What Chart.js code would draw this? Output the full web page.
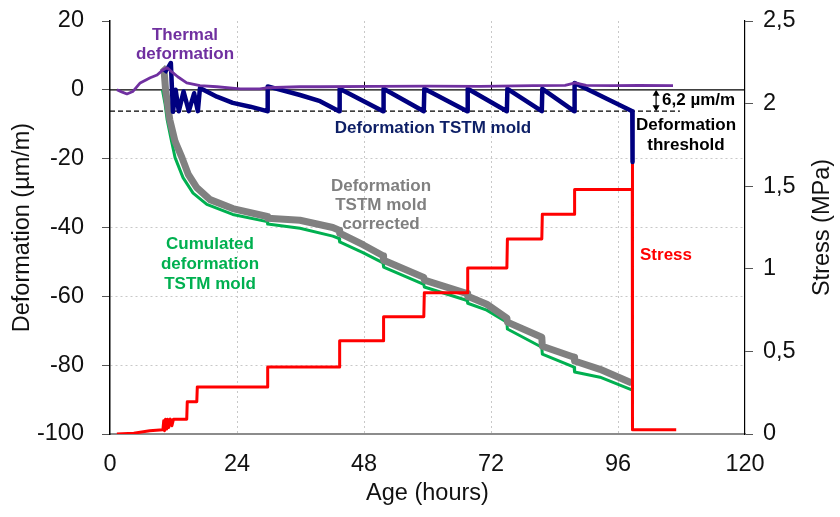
<!DOCTYPE html>
<html>
<head>
<meta charset="utf-8">
<script src="https://cdn.jsdelivr.net/npm/chart.js@4.4.0/dist/chart.umd.min.js"></script>
<style>
    body { margin: 0; background: #fff; }
    canvas { display: block; }
</style>
</head>
<body>
<canvas id="tstmChart" width="840" height="517"></canvas>
<script>
// ===== Data =====
const thermalAge = [1.3, 2.2, 3.2, 4.3, 5.7, 7.6, 8.9, 10.0, 10.8, 11.7, 12.8, 14.5, 17.0, 20.2, 24.6, 28.3, 29.6, 35.9, 39.7, 50, 60, 70, 80, 86, 87.9, 90, 95, 100, 106.4];
const thermalDef = [0, -0.6, -1.2, -0.5, 2.0, 3.5, 4.3, 5.8, 6.4, 5.2, 3.8, 2.0, 1.2, 0.9, 0.3, 0.3, 0.6, 0.9, 0.9, 1.0, 1.1, 1.0, 1.2, 1.3, 2.0, 1.3, 1.2, 1.3, 1.2];

const moldAge = [10.3, 11.0, 11.5, 11.9, 12.4, 13.0, 13.9, 14.9, 15.9, 16.6, 17.0, 20.2, 23.2, 26.5, 29.7, 29.8, 35.9, 39.7, 43.3, 43.4, 51.6, 51.7, 59.3, 59.4, 67.5, 67.6, 75.0, 75.1, 81.6, 81.7, 87.7, 87.8, 98.7, 98.75];
const moldDef = [5.0, 6.5, 7.8, -6.4, 0, -6.2, -0.5, -6.2, -1.0, -6.2, 0.5, -2.0, -3.8, -4.9, -6.2, 1.0, -1.5, -3.3, -6.2, 0.3, -6.2, 0.3, -6.2, 0.3, -6.2, 0.3, -6.2, 0.3, -6.2, 0.3, -6.2, 2.0, -6.2, -21];

const correctedAge = [9.9, 10.2, 10.5, 11.3, 12.3, 13.6, 14.8, 16.4, 18.9, 23.2, 29.7, 29.8, 35.9, 42.1, 43.3, 43.4, 47.8, 51.6, 51.7, 59.3, 59.4, 67.5, 67.6, 71.2, 75.0, 75.1, 81.6, 81.7, 87.7, 87.8, 92.6, 98.6];
const correctedDef = [6.5, 6.0, 0, -8.7, -15, -19.7, -24.6, -28.4, -31.9, -34.5, -36.8, -37.3, -37.9, -40, -40.8, -41.6, -45, -48.2, -49.5, -54.5, -55.3, -59.2, -60, -62.3, -66.3, -67.5, -71.9, -74.5, -77.7, -78.8, -81.2, -85.2];

const cumulatedAge = [9.9, 10.4, 10.8, 11.5, 12.3, 13.8, 15.7, 18.3, 23.2, 29.7, 29.8, 35.9, 42.1, 43.3, 43.4, 47.8, 51.6, 51.7, 59.3, 59.4, 67.5, 67.6, 71.2, 75.0, 75.1, 81.6, 81.7, 87.7, 87.8, 92.6, 98.6];
const cumulatedDef = [0, -4, -8.7, -14, -19.7, -25.5, -30, -33.3, -36.2, -38.3, -39, -40.2, -42.5, -43.2, -44.2, -47.3, -50.3, -51.5, -56.5, -57.3, -61.2, -62, -64, -67.5, -69.5, -74.8, -76.8, -80.6, -82, -83.5, -87.2];

const stressAge = [1.3, 4.5, 7.5, 10.0, 10.15, 10.3, 10.5, 10.7, 10.9, 11.1, 11.4, 11.7, 12.0, 12.3, 14.5, 14.6, 16.4, 16.5, 29.7, 29.8, 43.3, 43.4, 51.6, 51.7, 59.3, 59.4, 67.5, 67.6, 75.0, 75.1, 81.6, 81.7, 87.7, 87.8, 98.7, 98.72, 98.75, 107.0];
const stressMPa = [0, 0.005, 0.02, 0.025, 0.08, 0.02, 0.09, 0.03, 0.09, 0.04, 0.09, 0.05, 0.09, 0.09, 0.09, 0.195, 0.195, 0.285, 0.285, 0.405, 0.405, 0.565, 0.565, 0.71, 0.71, 0.855, 0.855, 1.005, 1.005, 1.18, 1.18, 1.33, 1.33, 1.48, 1.48, 1.64, 0.025, 0.025];

const thresholdAge = [0, 107.7];
const thresholdDef = [-6.2, -6.2];
const zeroAge = [0, 120];
const zeroDef = [0, 0];

const ageTicks = [0, 24, 48, 72, 96, 120];
const defTicks = [-100, -80, -60, -40, -20, 0, 20];
const stressTicks = [0, 0.5, 1, 1.5, 2, 2.5];

const FONT = '"Liberation Sans", Arial, Helvetica, sans-serif';
const AXIS_SIZE = 23.5;

function toPoints(xs, ys) {
    return xs.map((x, i) => ({ x: x, y: ys[i] }));
}

function lineSet(label, xs, ys, color, width, order, axis) {
    return {
        label: label,
        data: toPoints(xs, ys),
        borderColor: color,
        borderWidth: width,
        pointRadius: 0,
        fill: false,
        tension: 0,
        order: order,
        yAxisID: axis || 'y',
        borderJoinStyle: 'round'
    };
}

// ===== Labels drawn over the plot =====
const labelPlugin = {
    id: 'labels',
    beforeDatasetsDraw(chart) {
        const ctx = chart.ctx;
        const xs = chart.scales.x;
        const ys = chart.scales.y;
        const y0 = ys.getPixelForValue(0);
        ctx.save();
        ctx.strokeStyle = '#000';
        ctx.lineWidth = 1;
        [24, 48, 72, 96].forEach(v => {
            const px = Math.round(xs.getPixelForValue(v)) + 0.5;
            ctx.beginPath();
            ctx.moveTo(px, y0);
            ctx.lineTo(px, y0 - 8);
            ctx.stroke();
        });
        ctx.restore();
    },
    afterDatasetsDraw(chart) {
        const ctx = chart.ctx;
        const xs = chart.scales.x;
        const ys = chart.scales.y;
        ctx.save();
        ctx.textAlign = 'center';
        ctx.textBaseline = 'middle';
        ctx.font = 'bold 17px ' + FONT;

        const block = (lines, cx, cy, gap, color) => {
            ctx.fillStyle = color;
            lines.forEach((t, i) => ctx.fillText(t, cx, cy + i * gap));
        };
        block(['Thermal', 'deformation'], 185, 35, 19, '#7030a0');
        block(['Deformation TSTM mold'], 433, 128, 19, '#0d1f66');
        block(['Deformation', 'threshold'], 686, 125, 20, '#000');
        block(['Deformation', 'TSTM mold', 'corrected'], 381, 186, 19, '#808080');
        block(['Cumulated', 'deformation', 'TSTM mold'], 210, 244, 20, '#00b050');
        block(['Stress'], 666, 255, 19, '#ff0000');

        // 6,2 µm/m double arrow
        const ax = xs.getPixelForValue(103.2);
        const yTop = ys.getPixelForValue(0);
        const yBot = ys.getPixelForValue(-6.2);
        ctx.strokeStyle = '#000';
        ctx.fillStyle = '#000';
        ctx.lineWidth = 1.2;
        ctx.beginPath();
        ctx.moveTo(ax, yTop + 4);
        ctx.lineTo(ax, yBot - 4);
        ctx.stroke();
        ctx.beginPath();
        ctx.moveTo(ax, yTop);
        ctx.lineTo(ax - 3.5, yTop + 6);
        ctx.lineTo(ax + 3.5, yTop + 6);
        ctx.closePath();
        ctx.fill();
        ctx.beginPath();
        ctx.moveTo(ax, yBot);
        ctx.lineTo(ax - 3.5, yBot - 6);
        ctx.lineTo(ax + 3.5, yBot - 6);
        ctx.closePath();
        ctx.fill();
        ctx.textAlign = 'left';
        ctx.fillText('6,2 µm/m', ax + 6, (yTop + yBot) / 2);

        // right axis title, reading upwards
        const area = chart.chartArea;
        ctx.font = AXIS_SIZE + 'px ' + FONT;
        ctx.fillStyle = '#111';
        ctx.textAlign = 'center';
        ctx.translate(823, (area.top + area.bottom) / 2);
        ctx.rotate(-Math.PI / 2);
        ctx.fillText('Stress (MPa)', 0, 0);
        ctx.restore();
    }
};

const dotted = (hidden) => (c) => (c.tick && hidden.includes(c.tick.value)) ? 'rgba(0,0,0,0)' : '#c8c8c8';

function fixWidth(w) {
    return function(s) {
        s.width = w;
        s.paddingTop = 0;
        s.paddingBottom = 0;
    };
}

new Chart(document.getElementById('tstmChart').getContext('2d'), {
    type: 'line',
    data: {
        datasets: [
            lineSet('Thermal deformation', thermalAge, thermalDef, '#7030a0', 2.8, 0),
            lineSet('Deformation TSTM mold', moldAge, moldDef, '#000080', 4.5, 1),
            lineSet('Stress', stressAge, stressMPa, '#ff0000', 3, 2, 'y2'),
            lineSet('Deformation TSTM mold corrected', correctedAge, correctedDef, '#808080', 7, 3),
            lineSet('Cumulated deformation TSTM mold', cumulatedAge, cumulatedDef, '#00b050', 3, 4),
            lineSet('zero', zeroAge, zeroDef, '#000', 1.3, 5),
            Object.assign(lineSet('Deformation threshold', thresholdAge, thresholdDef, '#000', 1.3, 6), { borderDash: [5, 3] })
        ]
    },
    options: {
        responsive: false,
        animation: false,
        events: [],
        layout: { padding: { top: 21, right: 0, bottom: 0, left: 0 } },
        plugins: {
            legend: { display: false },
            tooltip: { enabled: false }
        },
        scales: {
            x: {
                type: 'linear',
                min: 0,
                max: 120,
                afterFit(s) { s.height = 83; },
                afterBuildTicks(s) { s.ticks = ageTicks.map(v => ({ value: v })); },
                grid: { color: dotted([0, 120]), drawTicks: false, lineWidth: 1 },
                border: { color: '#8c8c8c', width: 2, dash: [2, 3] },
                ticks: { padding: 16, color: '#111', font: { size: AXIS_SIZE, family: FONT } },
                title: { display: true, text: 'Age (hours)', color: '#111', padding: { top: 0, bottom: 9 }, font: { size: AXIS_SIZE, family: FONT } }
            },
            y: {
                position: 'left',
                min: -100,
                max: 20,
                afterFit: fixWidth(110),
                afterBuildTicks(s) { s.ticks = defTicks.map(v => ({ value: v })); },
                grid: { color: dotted([20, 0, -100]), tickLength: 8, tickColor: '#555', tickBorderDash: [], lineWidth: 1 },
                border: { color: '#000', width: 1.5, dash: [2, 3] },
                ticks: { padding: 18, color: '#111', font: { size: AXIS_SIZE, family: FONT } },
                title: { display: true, text: 'Deformation (µm/m)', color: '#111', padding: { top: 8, bottom: 0 }, font: { size: AXIS_SIZE, family: FONT } }
            },
            y2: {
                position: 'right',
                min: 0,
                max: 2.5,
                afterFit: fixWidth(95),
                afterBuildTicks(s) { s.ticks = stressTicks.map(v => ({ value: v })); },
                grid: { drawOnChartArea: false, tickLength: 8, tickColor: '#555' },
                border: { color: '#000', width: 1.2 },
                ticks: {
                    padding: 10,
                    color: '#111',
                    font: { size: AXIS_SIZE, family: FONT },
                    callback: v => String(v).replace('.', ',')
                }
            }
        }
    },
    plugins: [labelPlugin]
});
</script>
</body>
</html>
